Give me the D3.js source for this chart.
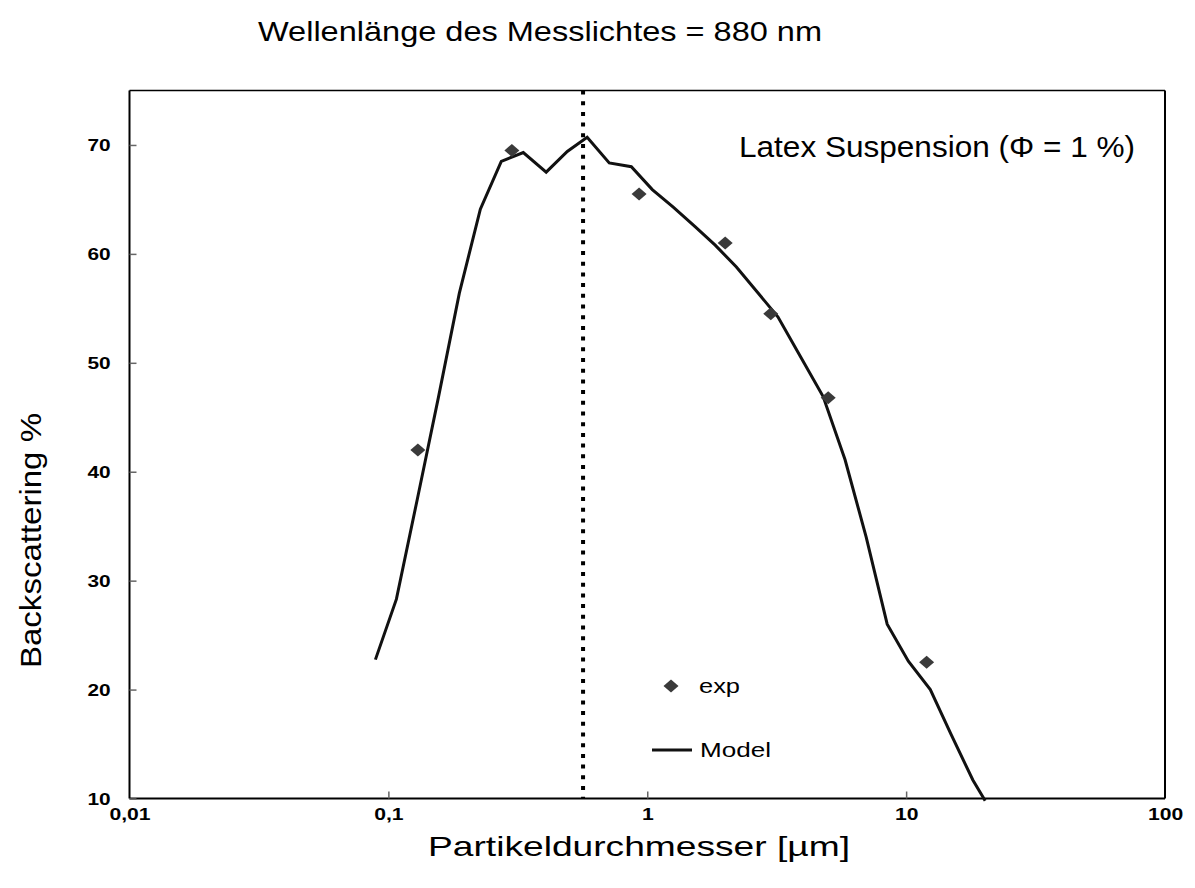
<!DOCTYPE html>
<html><head><meta charset="utf-8">
<script src="https://cdn.jsdelivr.net/npm/d3@7"></script>
<style>
body{margin:0;background:#fff;}
text{font-family:"Liberation Sans",Arial,Helvetica,sans-serif;fill:#000;}
</style></head>
<body>
<svg id="c" width="1195" height="888"></svg>
<script>
// ---- data ----
const modelX = [0.0891,0.1074,0.1294,0.156,0.188,0.2266,0.273,0.332,0.407,0.491,0.586,0.713,0.868,1.046,1.26,1.53,1.83,2.21,2.66,3.2,3.9,4.78,5.81,7.01,8.45,10.2,12.4,14.9,18.1,20.2];
const modelY = [22.75,28.3,37.5,46.8,56.4,64.1,68.5,69.3,67.5,69.4,70.7,68.35,68.0,65.9,64.3,62.5,60.8,58.8,56.5,54.2,50.6,46.9,41.1,34.0,26.0,22.6,20.0,15.9,11.7,9.8];
const expX = [0.13,0.3,0.93,2,3,5,12];
const expY = [42,69.5,65.5,61,54.5,46.8,22.5];
const xTicks = [0.01,0.1,1,10,100];
const xTickLabels = ["0,01","0,1","1","10","100"];
const yTicks = [10,20,30,40,50,60,70];
const markerLine = 0.565;
const titleText = "Wellenlänge des Messlichtes = 880 nm";
const noteText = "Latex Suspension (Φ = 1 %)";
const xLabel = "Partikeldurchmesser [µm]";
const yLabel = "Backscattering %";

// ---- layout ----
const L=129.5, R=1165, T=90.5, B=798.5;
const svg = d3.select("#c");
const x = d3.scaleLog().domain([0.01,100]).range([L,R]);
const y = d3.scaleLinear().domain([10,75]).range([B,T]);

function stretch(sel, k){
  sel.each(function(){ const w=this.getComputedTextLength(); d3.select(this).attr("textLength",w*k).attr("lengthAdjust","spacingAndGlyphs"); });
}

// frame
svg.append("line").attr("x1",L).attr("x2",R).attr("y1",T).attr("y2",T).attr("stroke","#000").attr("stroke-width",1.5);
svg.append("line").attr("x1",R).attr("x2",R).attr("y1",T).attr("y2",B).attr("stroke","#000").attr("stroke-width",2);
svg.append("line").attr("x1",L).attr("x2",L).attr("y1",T).attr("y2",B).attr("stroke","#000").attr("stroke-width",2);
svg.append("line").attr("x1",L).attr("x2",R).attr("y1",B).attr("y2",B).attr("stroke","#000").attr("stroke-width",2);

// y axis
const ya = svg.append("g").attr("transform",`translate(${L},0)`)
  .call(d3.axisRight(y).tickValues(yTicks).tickSize(7).tickFormat(d3.format("d")));
ya.select(".domain").remove();
ya.selectAll(".tick line").attr("stroke","#666").attr("stroke-width",1.5);
ya.selectAll(".tick text").attr("x",-19).attr("text-anchor","end")
  .style("font-size","16px").style("font-weight","bold").attr("dy","0.35em");
stretch(ya.selectAll(".tick text"),1.3);

// x axis
const xa = svg.append("g").attr("transform",`translate(0,${B})`)
  .call(d3.axisTop(x).tickValues(xTicks).tickSize(7).tickFormat((d,i)=>xTickLabels[i]));
xa.select(".domain").remove();
xa.selectAll(".tick line").attr("stroke","#666").attr("stroke-width",1.5)
  .style("display",(d)=> (d===0.01||d===100)?"none":null);
xa.selectAll(".tick text").attr("y",21).attr("dy","0")
  .style("font-size","16px").style("font-weight","bold");
stretch(xa.selectAll(".tick text"),1.32);

// dotted vertical line
svg.append("line").attr("x1",x(markerLine)).attr("x2",x(markerLine)).attr("y1",T).attr("y2",B)
  .attr("stroke","#000").attr("stroke-width",4).attr("stroke-dasharray","4 6.7");

// model line
const modelData = modelX.map((d,i)=>[d,modelY[i]]);
svg.append("path").datum(modelData)
  .attr("d", d3.line().x(d=>x(d[0])).y(d=>y(d[1])))
  .attr("fill","none").attr("stroke","#111").attr("stroke-width",3).attr("stroke-linejoin","miter");

// diamonds
const diamond = "M-7.5,0L0,-6.5L7.5,0L0,6.5Z";
svg.selectAll("path.exp").data(expX.map((d,i)=>[d,expY[i]])).join("path")
  .attr("class","exp").attr("d",diamond).attr("fill","#3a3a3a")
  .attr("transform",d=>`translate(${x(d[0])},${y(d[1])})`);

// legend
svg.append("path").attr("d",diamond).attr("fill","#3a3a3a").attr("transform","translate(671,686)");
svg.append("text").attr("x",699).attr("y",693).text("exp").style("font-size","20px")
  .attr("textLength",41).attr("lengthAdjust","spacingAndGlyphs");
svg.append("line").attr("x1",652).attr("x2",692).attr("y1",750).attr("y2",750).attr("stroke","#111").attr("stroke-width",3);
svg.append("text").attr("x",700).attr("y",757).text("Model").style("font-size","20px")
  .attr("textLength",71).attr("lengthAdjust","spacingAndGlyphs");

// texts
svg.append("text").attr("x",258).attr("y",41).text(titleText).style("font-size","28px")
  .attr("textLength",564).attr("lengthAdjust","spacingAndGlyphs");
svg.append("text").attr("x",739).attr("y",157).text(noteText).style("font-size","30px")
  .attr("textLength",396).attr("lengthAdjust","spacingAndGlyphs");
svg.append("text").attr("x",428).attr("y",856).text(xLabel).style("font-size","28px")
  .attr("textLength",422).attr("lengthAdjust","spacingAndGlyphs");
svg.append("text").attr("transform","translate(41,668) rotate(-90)").text(yLabel).style("font-size","29px")
  .attr("textLength",255).attr("lengthAdjust","spacingAndGlyphs");
</script>
</body></html>
